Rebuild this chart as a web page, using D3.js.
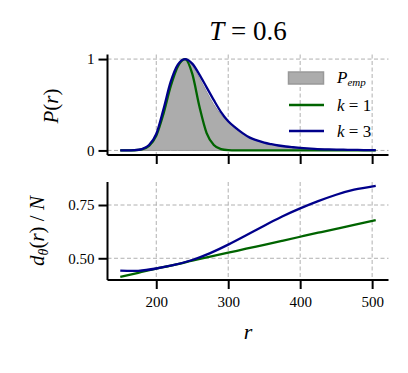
<!DOCTYPE html>
<html><head><meta charset="utf-8">
<script src="https://cdn.jsdelivr.net/npm/d3@7"></script>
<style>body{margin:0;background:#fff}svg{display:block}</style>
</head><body><svg id="c" width="408" height="373"></svg>
<script>
// ---- data ----
const rTop = [150,160,170,180,190,200,210,220,230,240,250,260,270,280,290,300,310,320,330,340,350,360,370,380,390,400,420,440,460,480,505];
const pEmp = [0,0,0.003,0.013,0.056,0.17,0.43,0.73,0.93,1.0,0.93,0.79,0.64,0.50,0.39,0.31,0.24,0.18,0.14,0.11,0.085,0.068,0.054,0.043,0.035,0.028,0.018,0.012,0.008,0.005,0.003];
const pK1  = [0,0,0.002,0.012,0.05,0.16,0.40,0.70,0.92,1.0,0.84,0.48,0.19,0.06,0.015,0.003,0,0,0,0,0,0,0,0,0,0,0,0,0,0,0];
const pK3  = [0,0,0.003,0.015,0.06,0.18,0.45,0.75,0.94,1.0,0.95,0.83,0.69,0.55,0.42,0.32,0.25,0.19,0.14,0.11,0.085,0.068,0.054,0.043,0.035,0.028,0.018,0.012,0.008,0.005,0.003];
const rBot = [150,175,200,225,250,275,300,325,350,375,400,425,450,475,505];
const dK1  = [0.413,0.432,0.451,0.469,0.489,0.508,0.526,0.545,0.563,0.582,0.601,0.620,0.638,0.657,0.679];
const dK3  = [0.442,0.441,0.452,0.469,0.492,0.524,0.564,0.608,0.653,0.696,0.734,0.768,0.798,0.822,0.840];
const xTicks = [200,300,400,500];
const yTopTicks = [0,1];
const yTopLabels = ["0","1"];
const yBotTicks = [0.5,0.75];
const yBotLabels = ["0.50","0.75"];

const FONT = "Liberation Serif";
const svg = d3.select("#c").attr("font-family", FONT);
const green = "#006400", blue = "#00008b";
const x = d3.scaleLinear().domain([132.25,522.75]).range([107.5,388.5]);
const yT = d3.scaleLinear().domain([-0.05,1.05]).range([155,54.5]);
const yB = d3.scaleLinear().domain([0.398,0.858]).range([280,182]);

function grid(y, yticks, top, bottom){
  const g = svg.append("g").attr("stroke","#b0b0b0").attr("stroke-width",1).attr("stroke-dasharray","4,2.5");
  xTicks.forEach(t=>g.append("line").attr("x1",x(t)).attr("x2",x(t)).attr("y1",top).attr("y2",bottom));
  yticks.forEach(t=>g.append("line").attr("x1",107.5).attr("x2",388.5).attr("y1",y(t)).attr("y2",y(t)));
}
grid(yT, yTopTicks, 54.5, 155);
grid(yB, yBotTicks, 182, 280);

// top panel
const topPts = rTop.map((r,i)=>({r, e:pEmp[i], a:pK1[i], b:pK3[i]}));
svg.append("path").datum(topPts)
  .attr("d", d3.area().x(d=>x(d.r)).y0(yT(0)).y1(d=>yT(d.e)).curve(d3.curveMonotoneX))
  .attr("fill","#acacac").attr("stroke","#999").attr("stroke-width",1);
svg.append("path").datum(topPts)
  .attr("d", d3.line().x(d=>x(d.r)).y(d=>yT(d.a)).curve(d3.curveMonotoneX))
  .attr("fill","none").attr("stroke",green).attr("stroke-width",2.3);
svg.append("path").datum(topPts)
  .attr("d", d3.line().x(d=>x(d.r)).y(d=>yT(d.b)).curve(d3.curveMonotoneX))
  .attr("fill","none").attr("stroke",blue).attr("stroke-width",2.3);

// bottom panel
const botPts = rBot.map((r,i)=>({r, a:dK1[i], b:dK3[i]}));
svg.append("path").datum(botPts)
  .attr("d", d3.line().x(d=>x(d.r)).y(d=>yB(d.a)).curve(d3.curveNatural))
  .attr("fill","none").attr("stroke",green).attr("stroke-width",2.3);
svg.append("path").datum(botPts)
  .attr("d", d3.line().x(d=>x(d.r)).y(d=>yB(d.b)).curve(d3.curveNatural))
  .attr("fill","none").attr("stroke",blue).attr("stroke-width",2.3);

// axes
function axes(y, top, bottom, yticks, ylabels, xLabels){
  const ax = svg.append("g");
  const ya = d3.axisLeft(y).tickValues(yticks).tickFormat((d,i)=>ylabels[i]).tickSize(9).tickPadding(4);
  const yg = ax.append("g").attr("transform","translate(107.5,0)").call(ya);
  yg.select(".domain").attr("d",`M0,${top}V${bottom}`);
  const xa = d3.axisBottom(x).tickValues(xTicks).tickSize(9).tickPadding(7).tickFormat(xLabels? d3.format("d") : ()=>"");
  const xg = ax.append("g").attr("transform",`translate(0,${bottom})`).call(xa);
  xg.select(".domain").attr("d",`M107.5,0H388.5`);
  ax.selectAll("g").attr("font-family", FONT);
  ax.selectAll(".domain").attr("stroke","#000").attr("stroke-width",2);
  ax.selectAll(".tick line").attr("stroke","#000").attr("stroke-width",2);
  ax.selectAll(".tick text").attr("font-size",15).attr("fill","#000");
}
axes(yT, 54.5, 155, yTopTicks, yTopLabels, false);
axes(yB, 182, 280, yBotTicks, yBotLabels, true);

// title
const title = svg.append("text").attr("x",248).attr("y",40).attr("text-anchor","middle").attr("font-size",27);
title.append("tspan").attr("font-style","italic").text("T");
title.append("tspan").text(" = 0.6");

// axis labels
const pl = svg.append("text").attr("transform","translate(58,106) rotate(-90)").attr("text-anchor","middle").attr("font-size",21);
pl.append("tspan").attr("font-style","italic").text("P");
pl.append("tspan").text("(");
pl.append("tspan").attr("font-style","italic").text("r");
pl.append("tspan").text(")");

const dl = svg.append("text").attr("transform","translate(44,231) rotate(-90)").attr("text-anchor","middle").attr("font-size",21);
dl.append("tspan").attr("font-style","italic").text("d");
dl.append("tspan").attr("font-style","italic").attr("font-size",14).attr("dy",4).text("θ");
dl.append("tspan").attr("dy",-4).text("(");
dl.append("tspan").attr("font-style","italic").text("r");
dl.append("tspan").text(") / ");
dl.append("tspan").attr("font-style","italic").text("N");

svg.append("text").attr("x",248).attr("y",339).attr("text-anchor","middle").attr("font-size",22).attr("font-style","italic").text("r");

// legend
const lg = svg.append("g");
lg.append("rect").attr("x",288.5).attr("y",72).attr("width",35).attr("height",12).attr("fill","#acacac").attr("stroke","#999").attr("stroke-width",1.5);
const le = lg.append("text").attr("x",337).attr("y",83).attr("font-size",17);
le.append("tspan").attr("font-style","italic").text("P");
le.append("tspan").attr("font-style","italic").attr("font-size",11).attr("dy",3).text("emp");
[[green,"1",105],[blue,"3",131]].forEach(([c,k,yy])=>{
  lg.append("line").attr("x1",289).attr("x2",324).attr("y1",yy).attr("y2",yy).attr("stroke",c).attr("stroke-width",2.3);
  const t = lg.append("text").attr("x",337).attr("y",yy+6).attr("font-size",17);
  t.append("tspan").attr("font-style","italic").text("k");
  t.append("tspan").text(" = "+k);
});
svg.selectAll("text").style("font-family", FONT);
</script></body></html>
